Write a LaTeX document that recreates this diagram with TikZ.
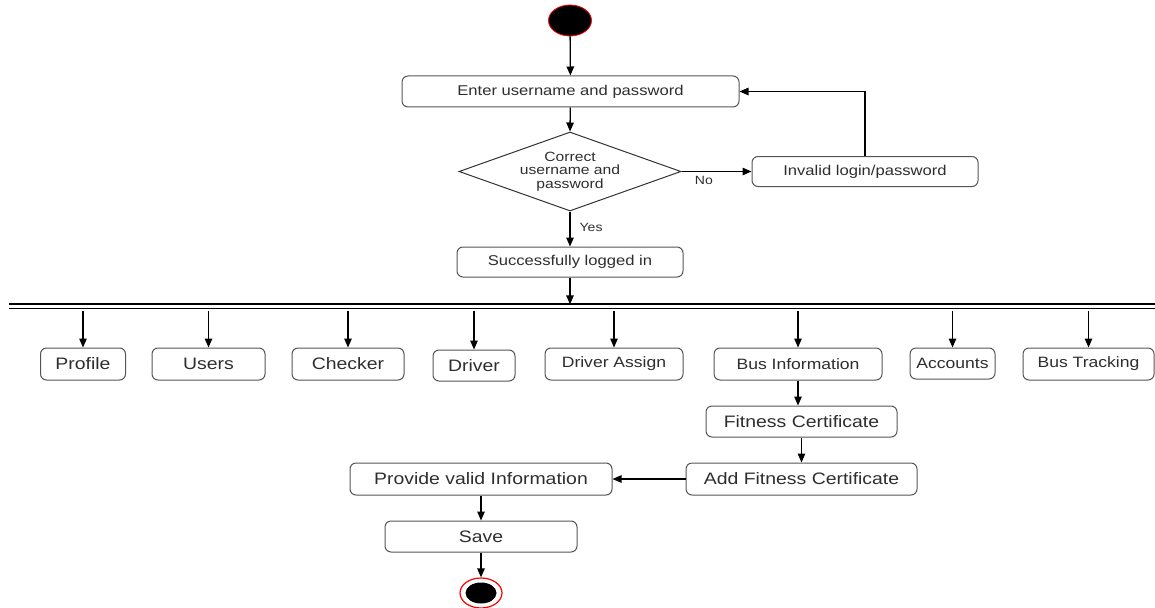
\documentclass[tikz,border=0pt]{standalone}
\usepackage{fontspec}
\setmainfont[FakeStretch=1.17]{Liberation Sans}
\usetikzlibrary{arrows.meta,shapes.geometric}
\definecolor{boxline}{HTML}{555555}
\definecolor{txt}{HTML}{2E2E2E}
\begin{document}
\begin{tikzpicture}[x=1pt,y=-1pt,
  act/.style={draw=boxline,line width=1pt,rounded corners=6pt,fill=white,
    inner sep=0pt,text=txt,align=center},
  fsmall/.style={font=\fontsize{14.2}{16}\selectfont},
  fmid/.style={font=\fontsize{15}{17}\selectfont},
  fbig/.style={font=\fontsize{16.6}{18}\selectfont},
  decision/.style={diamond,draw=black!80,line width=1pt,inner sep=0pt,
    minimum width=222pt,minimum height=79pt},
  arr/.style={draw=black,line width=1.3pt,-{Triangle[length=9pt,width=7.5pt]}},
  lbl/.style={text=txt,inner sep=0pt,font=\fontsize{12}{14}\selectfont},
  wh/.style args={#1x#2}{minimum width=#1pt,minimum height=#2pt}]
\useasboundingbox (0,0) rectangle (1155,607);

% initial node
\node[ellipse,draw=red,line width=0.8pt,fill=black,inner sep=0pt,
  minimum width=43pt,minimum height=31pt] (start) at (570,20.5) {};

% login loop
\node[act,fsmall,wh=337x31] (enter) at (570.5,91.5) {Enter username and password};
\node[decision] (dec) at (570,171.5) {};
\node[text=txt,align=center,inner sep=0pt,
  font=\fontsize{13.4}{13.6}\selectfont] (dectext) at (dec.center)
  {Correct\\username and\\password};
\node[act,fsmall,wh=226x30] (invalid) at (865,171.5) {Invalid login/password};
\node[act,fsmall,wh=226x30] (succ) at (570,262) {Successfully logged in};

\draw[arr] (start) -- (enter);
\draw[arr] (enter) -- (dec.north);
\draw[arr] (dec.east) -- node[lbl,pos=0.32,below=4pt] (nolbl) {No} (dec.east -| invalid.west);
\draw[arr] (invalid.north) |- (enter.east);
\draw[arr] (dec.south) -- node[lbl,pos=0.45,anchor=west,xshift=9pt] (yeslbl) {Yes} (succ.north);

% fork bar
\node[inner sep=0pt,minimum width=1146pt,minimum height=6pt] (bar) at (582,307.5) {};
\draw[line width=2pt] (bar.north west) -- (bar.north east);
\draw[line width=1.6pt] ([yshift=-4pt]bar.north west) -- ([yshift=-4pt]bar.north east);
\draw[arr] (succ.south) -- (succ.south |- bar.north);

% parallel activities
\node[act,fbig,wh=85x32]  (profile)  at (83,364)    {Profile};
\node[act,fbig,wh=113x32] (users)    at (208.5,364) {Users};
\node[act,fbig,wh=112x32] (checker)  at (348,364)   {Checker};
\node[act,fbig,wh=82x31]  (driver)   at (474,365.5) {Driver};
\node[act,fmid,wh=138x32] (dassign)  at (614,364)   {Driver Assign};
\node[act,fmid,wh=168x32] (businfo)  at (798,364)   {Bus Information};
\node[act,fmid,wh=85x31]  (accounts) at (952.5,363.5) {Accounts};
\node[act,fmid,wh=131x32] (tracking) at (1088.5,364) {Bus Tracking};

\foreach \n in {profile,users,checker,driver,dassign,businfo,accounts,tracking}
  \draw[arr] (\n.north |- bar.south) -- (\n.north);

% fitness certificate branch
\node[act,fbig,wh=191x31] (fitness) at (801.5,421.5) {Fitness Certificate};
\node[act,fbig,wh=231x32] (addfit)  at (801.5,479)   {Add Fitness Certificate};
\node[act,fbig,wh=262x32] (provide) at (481,479)     {Provide valid Information};
\node[act,fbig,wh=192x31] (save)    at (481,536.5)   {Save};

\node[ellipse,draw=red,line width=1.2pt,fill=white,inner sep=0pt,
  minimum width=42pt,minimum height=30pt] (final) at (481,593) {};
\node[ellipse,fill=black,inner sep=0pt,
  minimum width=31pt,minimum height=21pt] (finaldot) at (final.center) {};

\draw[arr] (businfo.south) -- (businfo.south |- fitness.north);
\draw[arr] (fitness) -- (addfit);
\draw[arr] (addfit) -- (provide);
\draw[arr] (provide) -- (save);
\draw[arr] (save) -- (final);
\end{tikzpicture}
\end{document}
